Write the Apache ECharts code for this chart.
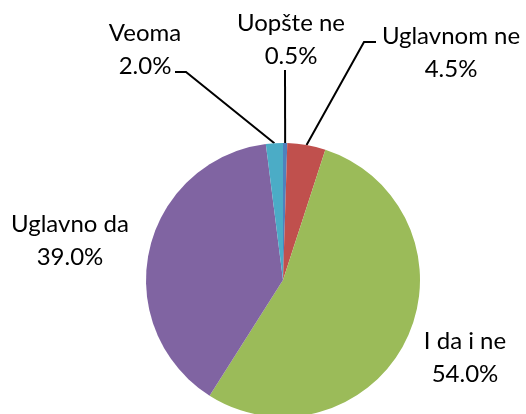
<!DOCTYPE html>
<html>
<head>
<meta charset="utf-8">
<script src="https://cdn.jsdelivr.net/npm/echarts@6/dist/echarts.min.js"></script>
<style>
  html, body { margin: 0; padding: 0; background: #fff; }
  #chart { width: 526px; height: 414px; }
</style>
</head>
<body>
<div id="chart"></div>
<script>
// odgovori, redom od vrha u smjeru kazaljke
const categories = ['Uopšte ne', 'Uglavnom ne', 'I da i ne', 'Uglavno da', 'Veoma']
const shares = [0.5, 4.5, 54.0, 39.0, 2.0]
const colors = ['#4F81BD', '#C0504D', '#9BBB59', '#8064A2', '#4BACC6']

// gdje stoji svaki natpis (centar bloka) i lomna tacka linije
const labelPos = [
  { x: 291, y: 40, line: [[285, 70]] },
  { x: 451, y: 53, line: [[364, 42], [376, 42]] },
  { x: 465, y: 358 },
  { x: 70, y: 241 },
  { x: 145, y: 50, line: [[186, 72], [175, 72]] }
]

const chart = echarts.init(document.getElementById('chart'))

chart.setOption({
  animation: false,
  series: [
    {
      type: 'pie',
      center: [283, 280],
      radius: 137,
      startAngle: 90,
      clockwise: true,
      avoidLabelOverlap: false,
      data: categories.map((name, i) => ({
        name: name,
        value: shares[i],
        itemStyle: { color: colors[i] },
        labelLine: { show: !!labelPos[i].line }
      })),
      label: {
        show: true,
        position: 'outside',
        formatter: p => p.name + '\n' + p.value.toFixed(1) + '%',
        fontFamily: 'Lato',
        fontSize: 24,
        lineHeight: 33,
        color: '#000',
        align: 'center'
      },
      labelLine: {
        show: true,
        lineStyle: { color: '#000', width: 2 }
      },
      labelLayout: params => {
        const pos = labelPos[params.dataIndex]
        const out = { x: pos.x, y: pos.y, align: 'center', verticalAlign: 'middle' }
        if (pos.line && params.labelLinePoints) {
          out.labelLinePoints = [params.labelLinePoints[0]].concat(pos.line)
        }
        return out
      }
    }
  ]
})
</script>
</body>
</html>
